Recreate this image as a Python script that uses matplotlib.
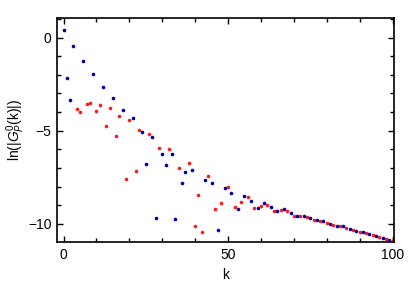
import matplotlib
matplotlib.use("Agg")
import matplotlib.pyplot as plt
from matplotlib.ticker import MultipleLocator

plt.rcParams['font.family'] = ['Liberation Sans', 'DejaVu Sans']
plt.rcParams['mathtext.fontset'] = 'custom'
plt.rcParams['mathtext.it'] = 'Liberation Sans:italic'
plt.rcParams['mathtext.rm'] = 'Liberation Sans'

blue_k = [0, 1, 2, 3, 6, 9, 12, 15, 18, 21, 24, 25, 27, 28, 30, 31, 33, 34, 36, 37, 39,
          43, 45, 47, 49, 51, 53, 55, 57, 59, 61, 63, 65, 67, 69, 71, 73, 75, 77, 79,
          81, 83, 85, 87, 89, 91, 93, 95, 97, 99]
blue_v = [0.41, -2.18, -3.35, -0.46, -1.27, -1.95, -2.67, -3.23, -3.89, -4.33, -5.07, -6.76,
          -5.36, -9.69, -6.27, -6.83, -6.27, -9.76, -7.79, -7.2, -7.12,
          -7.65, -7.81, -10.34, -8.1, -8.35, -9.19, -8.49, -8.76, -9.17, -8.87, -9.1, -9.32,
          -9.21, -9.41, -9.55, -9.55, -9.71, -9.80, -9.85,
          -10.0, -10.09, -10.14, -10.27, -10.36, -10.43, -10.55, -10.66, -10.75, -10.84]

red_k = [4, 5, 7, 8, 10, 11, 13, 14, 16, 17, 19, 20, 22, 23, 26, 29, 32, 35, 38, 40, 41, 42,
         44, 46, 48, 50, 52, 54, 56, 58, 60, 62, 64, 66, 68, 70, 72, 74, 76, 78, 80, 82, 84,
         86, 88, 90, 92, 94, 96, 98, 100]
red_v = [-3.83, -4.0, -3.58, -3.51, -3.94, -3.64, -4.75, -3.80, -5.27, -4.19, -7.6, -4.44,
         -7.18, -4.98, -5.2, -5.91, -5.98, -6.99, -6.74, -10.09, -8.44, -10.46,
         -7.44, -9.21, -8.89, -8.04, -9.08, -8.85, -8.55, -9.16, -9.05, -8.96, -9.32, -9.28,
         -9.3, -9.55, -9.55, -9.62, -9.80, -9.85, -9.95, -10.07, -10.14,
         -10.22, -10.34, -10.43, -10.5, -10.62, -10.72, -10.81, -10.87]

x_ticks = [0, 50, 100]
y_ticks = [0, -5, -10]

fig = plt.figure(figsize=(4.15, 2.94), dpi=100)
ax = fig.add_axes([0.138, 0.177, 0.811, 0.761])

ax.plot(red_k, red_v, 'o', color='#ff1a1a', markersize=2.6, markeredgewidth=0)
ax.plot(blue_k, blue_v, 'o', color='#0000aa', markersize=2.6, markeredgewidth=0)

ax.set_xlim(-1.9, 100.4)
ax.set_ylim(-10.97, 1.04)
ax.set_xticks(x_ticks)
ax.set_yticks(y_ticks)
ax.set_yticklabels(['0', '\u22125', '\u221210'])
ax.xaxis.set_minor_locator(MultipleLocator(10))
ax.yaxis.set_minor_locator(MultipleLocator(1))
ax.tick_params(which='both', direction='in', top=True, right=True, labelsize=10, width=1.0)
ax.tick_params(which='major', length=4.5, pad=4)
ax.tick_params(which='minor', length=3)
for s in ax.spines.values():
    s.set_linewidth(1.2)

ax.set_xlabel('k', fontsize=10, labelpad=5)
ax.set_ylabel(r'ln(|$G_P^0$(k)|)', fontsize=10, labelpad=1)

fig.savefig('out.png', dpi=100)
